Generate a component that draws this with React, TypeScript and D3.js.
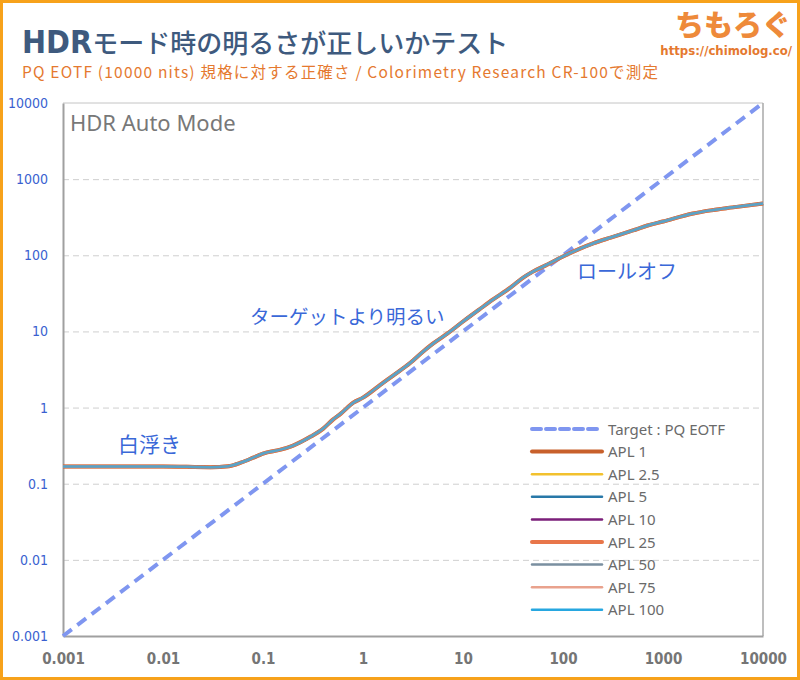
import { useEffect, useRef } from 'react';
import * as d3 from 'd3';

// input luminance (nits) and measured luminance (nits)
const inputNits = [0.001, 0.01, 0.03, 0.045, 0.06, 0.08, 0.1, 0.15, 0.2, 0.3, 0.4, 0.5, 0.6, 0.8, 1, 1.5, 2, 3, 4, 5, 7, 10, 15, 20, 30, 40, 50, 70, 100, 150, 200, 300, 500, 700, 1000, 2000, 3000, 5000, 10000];
const measuredNits = [0.168, 0.168, 0.165, 0.17, 0.189, 0.22, 0.249, 0.28, 0.317, 0.416, 0.53, 0.695, 0.834, 1.16, 1.35, 2.0, 2.63, 3.9, 5.45, 6.9, 9.4, 13.5, 20, 26.3, 37.8, 51, 61, 75.8, 96.4, 123, 143, 171, 212, 246, 278, 354, 389, 426, 480];

const targetNits = [0.001, 10000];

const seriesNames = ['APL 1', 'APL 2.5', 'APL 5', 'APL 10', 'APL 25', 'APL 50', 'APL 75', 'APL 100'];
const seriesColors = ['#c8602b', '#f2c12e', '#2878a8', '#7b1f7a', '#e8764a', '#7a8fa0', '#e9a28d', '#27a7e0'];
const seriesWidths = [4, 2.5, 2.5, 2.5, 4, 2.5, 2.5, 2.5];

const tickValues = [0.001, 0.01, 0.1, 1, 10, 100, 1000, 10000];
const tickLabels = ['0.001', '0.01', '0.1', '1', '10', '100', '1000', '10000'];

const W = 800;
const H = 680;
const margin = { top: 103, right: 37, bottom: 44, left: 63 };
const cond = '"DejaVu Sans Condensed", "Roboto", sans-serif';
const jp = '"Noto Sans CJK JP", "Noto Sans", sans-serif';

const App = () => {
  const svgRef = useRef<SVGSVGElement>(null);

  useEffect(() => {
    if (!svgRef.current) return;
    const root = d3.select(svgRef.current);
    root.selectAll('*').remove();

    const width = W - margin.left - margin.right;
    const height = H - margin.top - margin.bottom;

    root.append('rect')
      .attr('x', 0).attr('y', 0).attr('width', W).attr('height', H)
      .attr('fill', '#fff');

    // Title block
    const title = root.append('text')
      .attr('x', 22).attr('y', 53)
      .style('font-family', jp)
      .style('font-weight', 700)
      .style('fill', '#3e5a7e');
    title.append('tspan').text('HDR')
      .style('font-family', cond).style('font-size', '32px').style('font-weight', 700);
    title.append('tspan').text('モード時の明るさが正しいかテスト')
      .style('font-size', '26px').style('font-weight', 500);

    root.append('text')
      .attr('x', 22).attr('y', 78)
      .attr('textLength', 636)
      .attr('lengthAdjust', 'spacing')
      .style('font-family', jp)
      .style('font-size', '15.5px')
      .style('fill', '#e5792f')
      .text('PQ EOTF (10000 nits) 規格に対する正確さ / Colorimetry Research CR-100で測定');

    root.append('text')
      .attr('x', 791).attr('y', 36)
      .attr('text-anchor', 'end')
      .style('font-family', jp)
      .style('font-weight', 900)
      .style('font-size', '29px')
      .style('fill', '#ee8a3a')
      .text('ちもろぐ');
    root.append('text')
      .attr('x', 792).attr('y', 55)
      .attr('text-anchor', 'end')
      .style('font-family', cond)
      .style('font-weight', 700)
      .style('font-size', '13px')
      .style('fill', '#e5792f')
      .text('https://chimolog.co/');

    const svg = root.append('g')
      .attr('transform', `translate(${margin.left},${margin.top})`);

    const x = d3.scaleLog().domain([0.001, 10000]).range([0, width]);
    const y = d3.scaleLog().domain([0.001, 10000]).range([height, 0]);

    // Grid lines
    svg.append('g')
      .call(d3.axisLeft(y).tickValues(tickValues.slice(1, -1)).tickSize(-width).tickFormat(() => ''))
      .call(g => g.select('.domain').remove())
      .selectAll('line')
      .attr('stroke', '#cfcfcf')
      .attr('stroke-width', 1)
      .attr('stroke-dasharray', '6,4');

    // Frame
    svg.append('line').attr('x1', 0).attr('x2', width).attr('y1', 0).attr('y2', 0)
      .attr('stroke', '#c4c4c4').attr('stroke-width', 1);
    svg.append('line').attr('x1', width).attr('x2', width).attr('y1', 0).attr('y2', height)
      .attr('stroke', '#a8a8a8').attr('stroke-width', 1.5);

    // Y axis
    const yAxis = svg.append('g')
      .call(d3.axisLeft(y).tickValues(tickValues).tickSize(0).tickPadding(15)
        .tickFormat((d, i) => tickLabels[i]));
    yAxis.select('.domain').attr('stroke', '#a0a0a0').attr('stroke-width', 2);
    yAxis.selectAll('text')
      .style('font-family', cond)
      .style('font-size', '14px')
      .style('fill', '#3b5fd0');

    // X axis
    const xAxis = svg.append('g')
      .attr('transform', `translate(0,${height})`)
      .call(d3.axisBottom(x).tickValues(tickValues).tickSize(0).tickPadding(17)
        .tickFormat((d, i) => tickLabels[i]));
    xAxis.select('.domain').attr('stroke', '#a0a0a0').attr('stroke-width', 2);
    xAxis.selectAll('text')
      .style('font-family', cond)
      .style('font-weight', 700)
      .style('font-size', '15px')
      .style('fill', '#757575');

    svg.append('text')
      .attr('x', 7).attr('y', 28)
      .style('font-family', '"Noto Sans", sans-serif')
      .style('font-size', '22px')
      .style('fill', '#787878')
      .text('HDR Auto Mode');

    // Target PQ line
    const targetLine = d3.line<number>().x(d => x(d)).y(d => y(d));
    svg.append('path')
      .datum(targetNits)
      .attr('fill', 'none')
      .attr('stroke', '#7f96f0')
      .attr('stroke-width', 4)
      .attr('stroke-dasharray', '11,7')
      .attr('d', targetLine);

    // Measured series (all APL levels overlap)
    const idx = d3.range(inputNits.length);
    const line = d3.line<number>()
      .x(i => x(inputNits[i]))
      .y(i => y(measuredNits[i]))
      .curve(d3.curveMonotoneX);

    seriesNames.forEach((name, s) => {
      svg.append('path')
        .datum(idx)
        .attr('fill', 'none')
        .attr('stroke', seriesColors[s])
        .attr('stroke-width', seriesWidths[s])
        .attr('stroke-opacity', s === 0 ? 1 : 0.7)
        .attr('stroke-linejoin', 'round')
        .attr('d', line);
    });

    // Annotations
    const notes = [
      { text: '白浮き', nx: 0.00355, ny: 0.264, size: 21 },
      { text: 'ターゲットより明るい', nx: 0.0741, ny: 12.7, size: 19.5 },
      { text: 'ロールオフ', nx: 138, ny: 49.5, size: 20 },
    ];
    svg.selectAll('.note')
      .data(notes)
      .enter()
      .append('text')
      .attr('x', d => x(d.nx))
      .attr('y', d => y(d.ny))
      .style('font-family', jp)
      .style('font-size', d => `${d.size}px`)
      .style('fill', '#3a68d8')
      .text(d => d.text);

    // Legend
    const legendItems = [{ name: 'Target : PQ EOTF', color: '#7f96f0', w: 4, dash: '9,5' }]
      .concat(seriesNames.map((n, i) => ({ name: n, color: seriesColors[i], w: seriesWidths[i], dash: '' })));
    const legend = svg.append('g').attr('transform', 'translate(469,326)');
    legendItems.forEach((item, i) => {
      const gy = i * 22.6;
      legend.append('line')
        .attr('x1', 0).attr('x2', 70).attr('y1', gy).attr('y2', gy)
        .attr('stroke', item.color)
        .attr('stroke-width', item.w)
        .attr('stroke-dasharray', item.dash || null)
        .attr('stroke-linecap', 'round');
      legend.append('text')
        .attr('x', 76).attr('y', gy + 5.5)
        .style('font-family', '"Noto Sans", sans-serif')
        .style('font-size', '15px')
        .style('fill', '#6a6a6a')
        .text(item.name);
    });

    // Orange frame
    root.append('rect')
      .attr('x', 1.5).attr('y', 1.5).attr('width', W - 3).attr('height', H - 3)
      .attr('fill', 'none')
      .attr('stroke', '#f7a21b')
      .attr('stroke-width', 3);
  }, []);

  return (
    <div style={{ position: 'absolute', left: 0, top: 0 }}>
      <svg ref={svgRef} width={W} height={H} style={{ display: 'block' }}></svg>
    </div>
  );
};

export default App;
